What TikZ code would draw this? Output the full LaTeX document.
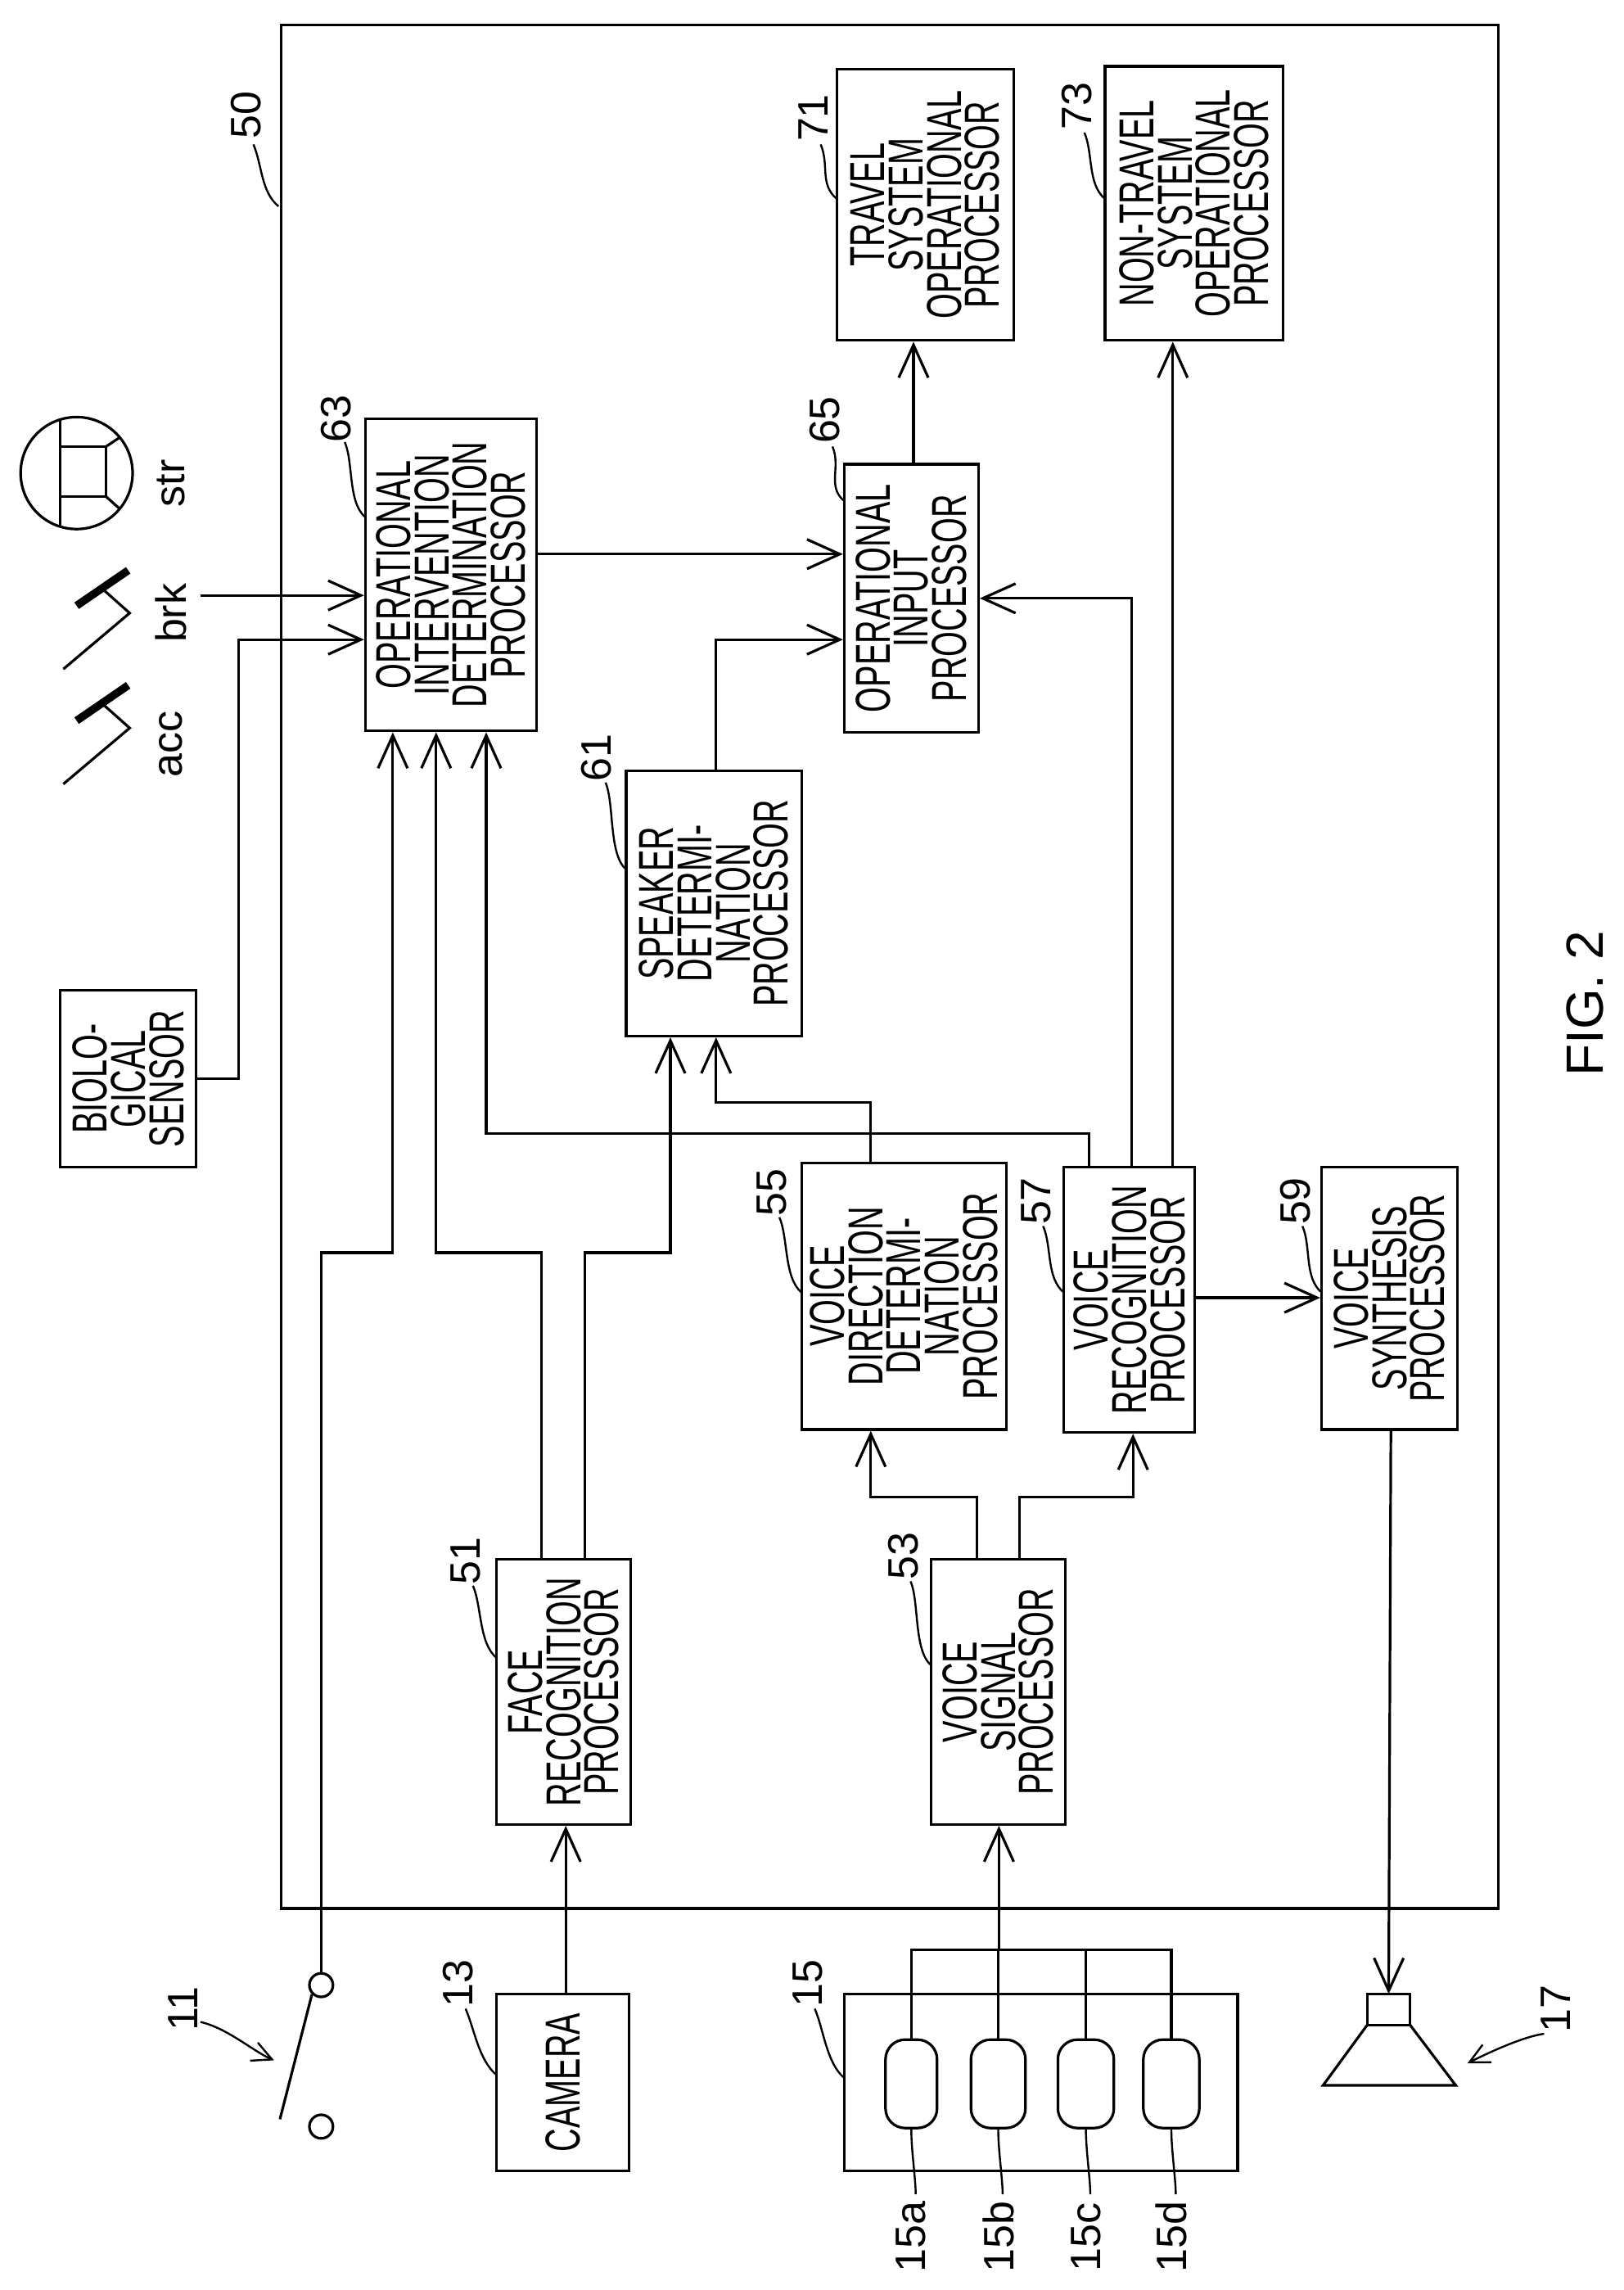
\documentclass[tikz,border=0pt]{standalone}
\usepackage{fontspec}
\setmainfont{Liberation Sans}[FakeStretch=0.66]
\newfontfamily\lab{Liberation Sans}
\usetikzlibrary{arrows.meta,calc}
\tikzset{
  ln/.style={line width=0.8pt},
  arr/.style={ln,-{Straight Barb[length=10pt,width=9pt]}},
  box/.style={ln,draw,rectangle,inner sep=0pt},
  boxtext/.style={rotate=90,align=center,inner sep=0pt,font=\fontsize{15}{11.7}\selectfont},
  lbl/.style={rotate=90,inner sep=0pt,font=\lab\fontsize{13}{13}\selectfont},
  lead/.style={line width=0.6pt}
}
\newcommand\bx[6]{%
  \node[box,minimum width={(#4-#2)*0.45pt},minimum height={(#5-#3)*0.45pt}] (#1) at ({(#2+#4)/2},{(#3+#5)/2}) {};
  \node[boxtext] (#1t) at (#1) {#6};}
\newcommand\lb[6]{% name, text, tx,ty, leader start, leader end
  \node[lbl] (#1) at (#3,#4) {#2};
  \draw[lead] (#5) .. controls +(6,14) and +(-12,-10) .. (#6);}
\begin{document}
\begin{tikzpicture}[x=0.45pt,y=-0.45pt]
\fill[white] (0,0) rectangle (1102.2,1553.9);
\useasboundingbox (0,0) rectangle (1102.2,1553.9);
% outer box
\node[box,minimum width={(1017-191)*0.45pt},minimum height={(1295-17)*0.45pt}] (b50) at ({(191+1017)/2},{(17+1295)/2}) {};
% boxes
\bx{b63}{248}{284}{364}{496}{OPERATIONAL\\INTERVENTION\\DETERMINATION\\PROCESSOR}
\bx{b65}{573}{315}{664}{497}{OPERATIONAL\\INPUT\\PROCESSOR}
\bx{b71}{568}{47}{688}{231}{TRAVEL\\SYSTEM\\OPERATIONAL\\PROCESSOR}
\bx{b73}{750}{45}{871}{231}{NON-TRAVEL\\SYSTEM\\OPERATIONAL\\PROCESSOR}
\bx{b61}{425}{523}{544}{703}{SPEAKER\\DETERMI-\\NATION\\PROCESSOR}
\bx{b55}{544}{789}{683}{970}{VOICE\\DIRECTION\\DETERMI-\\NATION\\PROCESSOR}
\bx{b57}{722}{792}{811}{972}{VOICE\\RECOGNITION\\PROCESSOR}
\bx{b59}{897}{792}{989}{970}{VOICE\\SYNTHESIS\\PROCESSOR}
\bx{b51}{337}{1058}{428}{1238}{FACE\\RECOGNITION\\PROCESSOR}
\bx{b53}{632}{1058}{723}{1238}{VOICE\\SIGNAL\\PROCESSOR}
\bx{bS}{41}{672}{133}{792}{BIOLO-\\GICAL\\SENSOR}
\bx{b13}{337}{1353}{427}{1473}{CAMERA}
\bx{b15}{573}{1353}{840}{1473}{}
% microphones
\foreach \n/\a/\b in {m1/601/636,m2/659/696,m3/718/756,m4/776/814}{
  \node[box,rounded corners=6pt,minimum width={(\b-\a)*0.45pt},minimum height={60*0.45pt}] (\n) at ({(\a+\b)/2},1414) {};
}
% switch
\node[ln,draw,circle,minimum size=16*0.45pt,inner sep=0pt] (sw1) at (218,1347) {};
\node[ln,draw,circle,minimum size=16*0.45pt,inner sep=0pt] (sw2) at (218,1443) {};
\coordinate (blade) at (190,1438);
\draw[ln] (sw1.south west) -- (blade);
% speaker
\coordinate (spk) at (942.5,1353);
\draw[ln] (928,1353) rectangle (957,1374);
\draw[ln] (928,1374) -- (898,1415) -- (988,1415) -- (957,1374);
% steering wheel
\node[ln,draw,circle,minimum size=76*0.45pt,inner sep=0pt] (wheel) at (52,321) {};
\draw[ln] (41,284.6) -- (41,357.4);
\draw[ln] (41,303) rectangle (72,337);
\draw[ln] (72,303) -- (81,297) (72,337) -- (81,345);
% pedals
\foreach \dy in {0,78}{
  \draw[ln] (43,454+\dy) -- (88,416+\dy) -- (70,400+\dy);
  \draw[line width=2.4pt] (52,411+\dy) -- (87,387+\dy);
}
\node[lbl] (str) at (116,328) {str};
\node[lbl] (brk) at (116,416) {brk};
\node[lbl] (acc) at (116,505) {acc};
% named x positions
\foreach \n/\x in {xa/266.6,xb/296,xc/330,xd/367.6,xe/397,xf/455,xg/486,xh/591,xi/620,xj/663,xk/692,xl/739,xm/768,xn/769,xo/796,xp/384,xq/678,xr/944,xs/162}{\coordinate (\n) at (\x,0);}
\foreach \n/\y in {ya/850,yb/769,yc/748,yd/434,ye/376,yf/406,yg/880.6,yh/1016,yi/1323,yj/732,yk/404,yl/1518}{\coordinate (\n) at (0,\y);}
% connectors
\draw[arr] (sw1.north) -- (sw1.north |- ya) -| (xa |- b63.south);
\draw[arr] (xd |- b51.north) -- (xd |- ya) -| (xb |- b63.south);
\draw[arr] (xe |- b51.north) -- (xe |- ya) -| (xf |- b61.south);
\draw[arr] (xl |- b57.north) -- (xl |- yb) -| (xc |- b63.south);
\draw[arr] (xh |- b55.north) -- (xh |- yc) -| (xg |- b61.south);
\draw[arr] (xg |- b61.north) -- (xg |- yd) -- (b65.west |- yd);
\draw[arr] (b63.east |- ye) -- (b65.west |- ye);
\draw[arr] (xm |- b57.north) -- (xm |- yf) -- (b65.east |- yf);
\draw[arr] (xo |- b57.north) -- (xo |- b73.south);
\draw[arr] (xi |- b65.north) -- (xi |- b71.south);
\draw[arr] (b57.east |- yg) -- (b59.west |- yg);
\draw[arr] (xj |- b53.north) -- (xj |- yh) -| (xh |- b55.south);
\draw[arr] (xk |- b53.north) -- (xk |- yh) -| (xn |- b57.south);
\draw[arr] (xp |- b13.north) -- (xp |- b51.south);
\draw[ln] (m1.north) -- (m1.north |- yi) -- (m4.north |- yi) -- (m4.north);
\draw[ln] (m2.north) -- (m2.north |- yi) (m3.north) -- (m3.north |- yi);
\draw[arr] (xq |- yi) -- (xq |- b53.south);
\draw[arr] (xr |- b59.south) -- (spk);
\draw[arr] (bS.east |- yj) -- (xs |- yj) |- (b63.west |- yd);
\coordinate (brkS) at (136,404);
\draw[arr] (brkS) -- (b63.west |- yk);
% reference labels
\lb{l50}{50}{167}{78}{172,98}{189,140}
\lb{l63}{63}{228}{284}{234,300}{248,351}
\lb{l65}{65}{560}{285}{565,303}{573,340}
\lb{l71}{71}{552}{80}{557,98}{568,135}
\lb{l73}{73}{731}{72}{736,90}{750,135}
\lb{l61}{61}{405}{514}{411,531}{425,590}
\lb{l55}{55}{524}{809}{529,826}{544,877}
\lb{l57}{57}{703}{815}{708,832}{722,877}
\lb{l59}{59}{879}{815}{884,832}{897,877}
\lb{l51}{51}{316}{1059}{321,1076}{337,1125}
\lb{l53}{53}{613}{1056}{618,1073}{632,1130}
\lb{l13}{13}{311}{1346}{316,1363}{337,1408}
\lb{l15}{15}{548}{1346}{553,1363}{573,1410}
\node[lbl] (l11) at (124,1363) {11};
\draw[lead,-{Straight Barb[length=6pt,width=6pt]}] (136,1372) .. controls +(18,4) and +(-14,-6) .. (186,1398);
\node[lbl] (l17) at (1056,1363) {17};
\draw[lead,-{Straight Barb[length=6pt,width=6pt]}] (1048,1380) .. controls +(-14,2) and +(16,-8) .. (996,1400);
\foreach \m/\t in {m1/15a,m2/15b,m3/15c,m4/15d}{
  \node[lbl] (l\t) at (\m.south |- yl) {\t};
  \draw[lead] (\m.south) .. controls +(0,14) and +(0,-10) .. ($(\m.south)+(3,44)$);
}
\node[rotate=90,inner sep=0pt,font=\lab\fontsize{16}{16}\selectfont] (fig) at (1076,681) {FIG. 2};
\end{tikzpicture}
\end{document}
